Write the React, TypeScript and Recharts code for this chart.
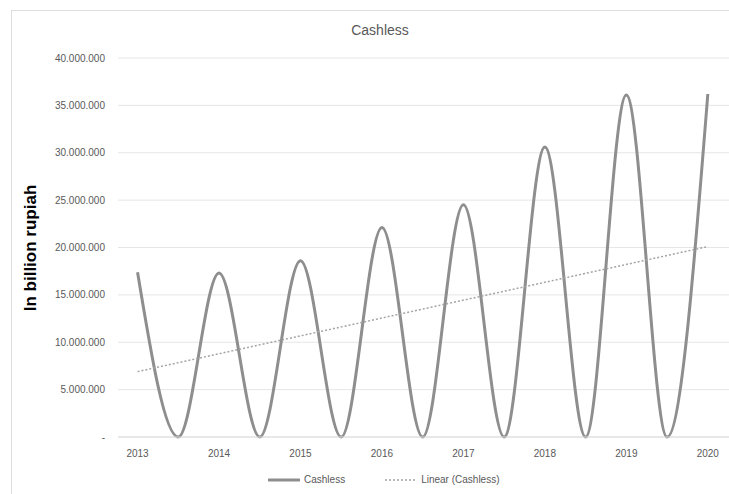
import { LineChart, Line, XAxis, YAxis, CartesianGrid } from "recharts";

// x positions: whole years are peaks, half years are the troughs
const POINTS_X = [
  2013, 2013.5, 2014, 2014.5, 2015, 2015.5, 2016, 2016.5,
  2017, 2017.5, 2018, 2018.5, 2019, 2019.5, 2020,
];
const CASHLESS = [
  17400000, 0, 17300000, 0, 18600000, 0, 22100000, 0,
  24500000, 0, 30600000, 0, 36100000, 0, 36200000,
];
// trend line read at its two ends
const TREND_X = [2013, 2020];
const TREND = [6900000, 20100000];

const YEARS = [2013, 2014, 2015, 2016, 2017, 2018, 2019, 2020];
const Y_TICKS = [0, 5000000, 10000000, 15000000, 20000000, 25000000, 30000000, 35000000, 40000000];

const LEGEND = [
  { label: "Cashless", dash: undefined as string | undefined, width: 3 },
  { label: "Linear (Cashless)", dash: "2 2", width: 1.5 },
];

const LINE_COLOR = "#8e8e8e";
const TREND_COLOR = "#a4a4a4";
const TEXT = "#595959";
const FONT = "'Liberation Sans', Arial, sans-serif";

const data = POINTS_X.map((x, i) => {
  const t = TREND_X.indexOf(x);
  return { x, cashless: CASHLESS[i], trend: t >= 0 ? TREND[t] : null };
});

const fmt = (v: number) =>
  v === 0 ? "-" : v.toString().replace(/\B(?=(\d{3})+(?!\d))/g, ".");

function LegendBox() {
  return (
    <div
      style={{
        position: "absolute", top: 474, left: 268, display: "flex", gap: 40,
        fontFamily: FONT, fontSize: 10, color: TEXT, alignItems: "center",
      }}
    >
      {LEGEND.map((l) => (
        <div key={l.label} style={{ display: "flex", alignItems: "center", gap: 4 }}>
          <svg width={32} height={8}>
            <line x1={0} y1={4} x2={32} y2={4} stroke={l.dash ? TREND_COLOR : LINE_COLOR}
              strokeWidth={l.width} strokeDasharray={l.dash} />
          </svg>
          <span>{l.label}</span>
        </div>
      ))}
    </div>
  );
}

export default function App() {
  return (
    <div style={{ position: "relative", width: 729, height: 494, background: "#fff", overflow: "hidden" }}>
      <style>{"body{margin:0}"}</style>
      <div
        style={{
          position: "absolute", left: 11, top: 10, width: 740, height: 500,
          border: "1px solid #dedede", boxSizing: "border-box",
        }}
      />
      <div
        style={{
          position: "absolute", top: 22, left: 0, width: 760, textAlign: "center",
          fontFamily: FONT, fontSize: 14, color: TEXT,
        }}
      >
        Cashless
      </div>
      <div
        style={{
          position: "absolute", left: 31, top: 248, transform: "translate(-50%, -50%) rotate(-90deg)",
          whiteSpace: "nowrap", fontFamily: FONT, fontSize: 17, fontWeight: "bold", color: "#000",
        }}
      >
        In billion rupiah
      </div>
      <div style={{ position: "absolute", left: 0, top: 0 }}>
        <LineChart width={729} height={494} data={data} margin={{ top: 58, right: 0, bottom: 0, left: 0 }}>
          <CartesianGrid vertical={false} stroke="#e6e6e6" />
          <XAxis
            dataKey="x" type="number" domain={[2012.76, 2020.26]} ticks={YEARS}
            axisLine={{ stroke: "#dcdcdc" }} tickLine={false} tickMargin={7} height={57}
            tick={{ fill: TEXT, fontSize: 10, fontFamily: FONT }}
            tickFormatter={(v: number) => String(v)}
          />
          <YAxis
            type="number" domain={[0, 40000000]} ticks={Y_TICKS} width={118}
            axisLine={false} tickLine={false} tickSize={0} tickMargin={13}
            tick={{ fill: TEXT, fontSize: 10, fontFamily: FONT }}
            tickFormatter={fmt}
          />
          <Line
            type="monotone" dataKey="cashless" stroke={LINE_COLOR} strokeWidth={3}
            dot={false} isAnimationActive={false}
          />
          <Line
            type="linear" dataKey="trend" stroke={TREND_COLOR} strokeWidth={1.5}
            strokeDasharray="2 2" dot={false} connectNulls isAnimationActive={false}
          />
        </LineChart>
      </div>
      <LegendBox />
    </div>
  );
}
